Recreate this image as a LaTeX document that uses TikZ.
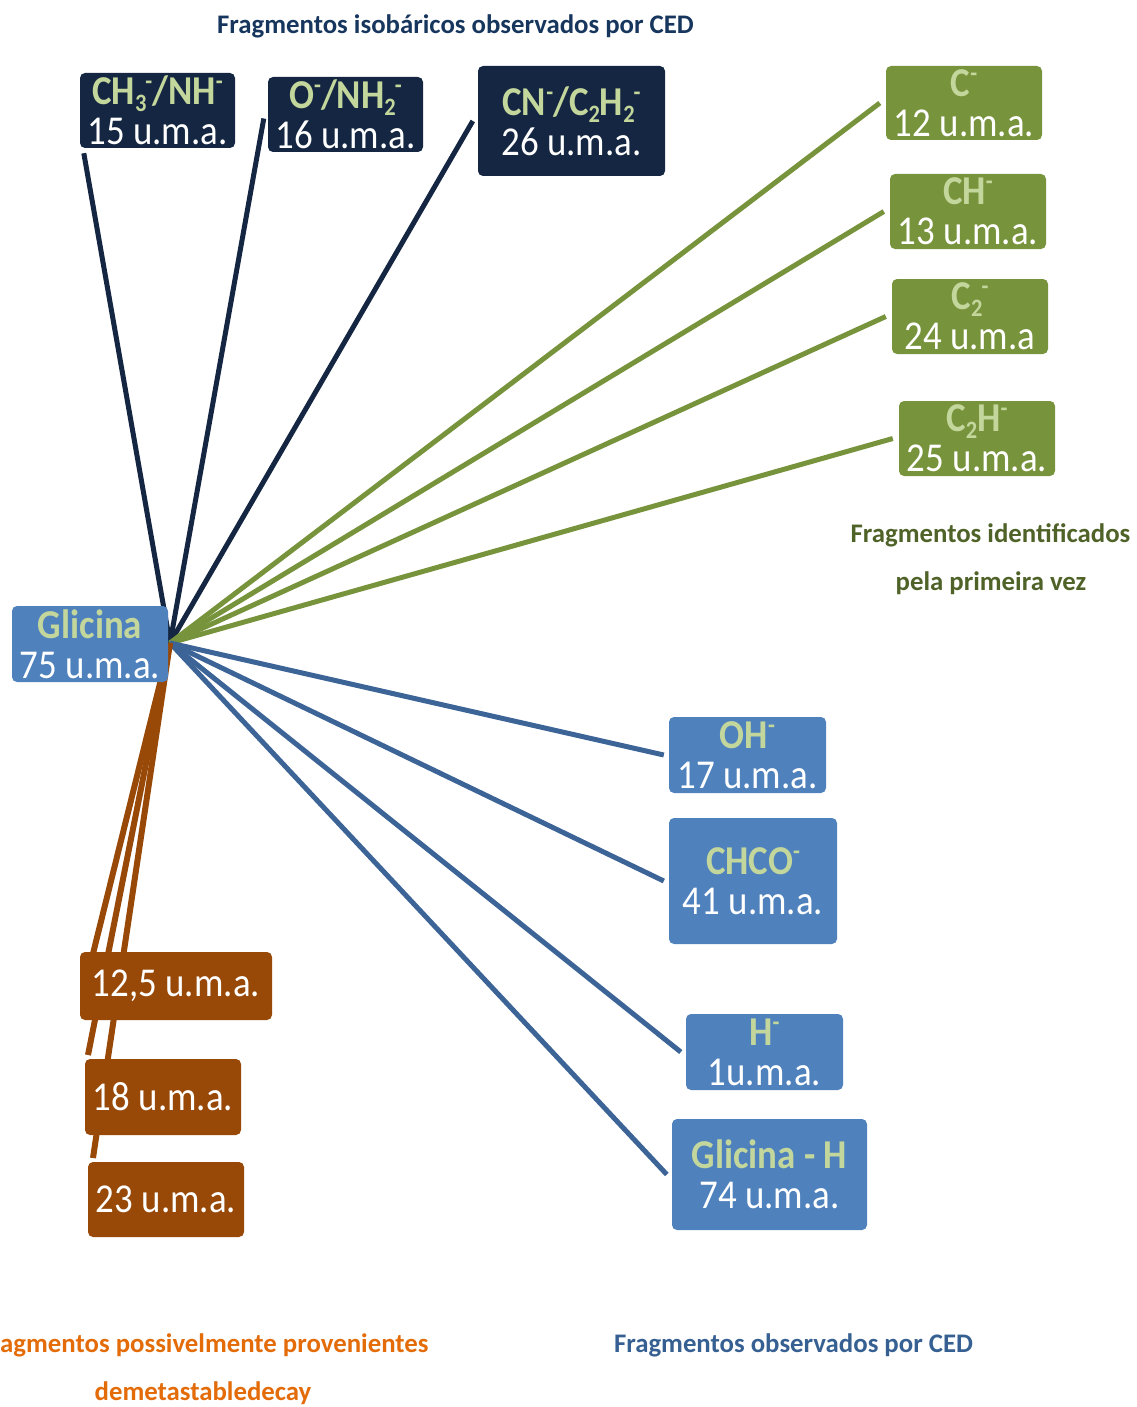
\documentclass[tikz,border=0pt]{standalone}
\usepackage{fontspec}
\setmainfont{Carlito}
\newfontfamily\boxfont[FakeStretch=0.9]{Carlito}
\usetikzlibrary{backgrounds}

\definecolor{navy}{HTML}{142641}
\definecolor{olive}{HTML}{77933C}
\definecolor{paleolive}{HTML}{C3D69B}
\definecolor{steel}{HTML}{4F81BD}
\definecolor{steelline}{HTML}{3C6497}
\definecolor{rust}{HTML}{984807}
\definecolor{navytitle}{HTML}{17365D}
\definecolor{olivetitle}{HTML}{4F6228}
\definecolor{steeltitle}{HTML}{366092}
\definecolor{rusttitle}{HTML}{E36C09}

% charge and index marks sized for the 41pt box text
\newcommand{\sups}[1]{\raisebox{15pt}{\fontsize{25}{25}\selectfont #1}}
\newcommand{\subs}[1]{\raisebox{-7pt}{\fontsize{25}{25}\selectfont #1}}
% ion with index followed by charge
\newcommand{\ionss}[2]{\subs{#1}\kern-1pt\sups{#2}}
\newcommand{\hd}[1]{{\bfseries\color{paleolive}#1}}

\begin{document}
\begin{tikzpicture}[x=1pt,y=-1pt,
  fragbox/.style={rounded corners=5pt, inner sep=0pt, align=center, text=white,
    font=\boxfont\fontsize{41}{40}\selectfont},
  navybox/.style={fragbox, fill=navy},
  olivebox/.style={fragbox, fill=olive},
  steelbox/.style={fragbox, fill=steel},
  rustbox/.style={fragbox, fill=rust},
  link/.style={line width=5pt},
  title/.style={font=\bfseries\fontsize{26.8}{30}\selectfont, anchor=base}]

\useasboundingbox (0,0) rectangle (1136,1407);

% parent ion
\node[steelbox, minimum width=156, minimum height=76] (gly) at (90,644) {\hd{Glicina}\\75 u.m.a.};
\coordinate (hub) at (170,643);

% isobaric fragments
\node[navybox, minimum width=155, minimum height=75] (ch3) at (157.5,110.5) {\hd{CH\ionss{3}{-}/NH\sups{-}}\\15 u.m.a.};
\node[navybox, minimum width=155, minimum height=75] (onh) at (345.5,114.5) {\hd{O\sups{-}/NH\ionss{2}{-}}\\16 u.m.a.};
\node[navybox, minimum width=187, minimum height=110] (cn) at (571.5,121) {\hd{CN\sups{-}/C\subs{2}H\ionss{2}{-}}\\26 u.m.a.};

% fragments identified for the first time
\node[olivebox, minimum width=156, minimum height=74] (c) at (964,103) {\hd{C\sups{-}}\\12 u.m.a.};
\node[olivebox, minimum width=156, minimum height=75] (ch) at (968,211.5) {\hd{CH\sups{-}}\\13 u.m.a.};
\node[olivebox, minimum width=156, minimum height=75] (c2) at (970,316.5) {\hd{C\ionss{2}{-}}\\24 u.m.a};
\node[olivebox, minimum width=156, minimum height=75] (c2h) at (977,438.5) {\hd{C\subs{2}H\sups{-}}\\25 u.m.a.};

% CED fragments
\node[steelbox, minimum width=157, minimum height=76] (oh) at (747.5,755) {\hd{OH\sups{-}}\\17 u.m.a.};
\node[steelbox, minimum width=168, minimum height=126] (chco) at (753,881) {\hd{CHCO\sups{-}}\\41 u.m.a.};
\node[steelbox, minimum width=157, minimum height=76] (h) at (764.5,1052) {\hd{H\sups{-}}\\1u.m.a.};
\node[steelbox, minimum width=195, minimum height=111] (glyh) at (769.5,1174.5) {\hd{Glicina - H}\\74 u.m.a.};

% metastable decay fragments
\node[rustbox, minimum width=192, minimum height=68] (r12) at (176,986) {12,5 u.m.a.};
\node[rustbox, minimum width=156, minimum height=76] (r18) at (163,1097) {18 u.m.a.};
\node[rustbox, minimum width=156, minimum height=75] (r23) at (166,1199.5) {23 u.m.a.};
\coordinate (m1) at (84,990);
\coordinate (m2) at (88,1055);
\coordinate (m3) at (93,1158);

\begin{scope}[on background layer]
  \draw[link, navy] (hub) -- ([shift={(4pt,-5pt)}]ch3.south west);
  \draw[link, navy] (hub) -- ([shift={(-4pt,-4pt)}]onh.west);
  \draw[link, navy] (hub) -- ([xshift=-5pt]cn.west);
  \draw[link, olive] (hub) -- ([xshift=-6pt]c.west);
  \draw[link, olive] (hub) -- ([xshift=-6pt]ch.west);
  \draw[link, olive] (hub) -- ([xshift=-6pt]c2.west);
  \draw[link, olive] (hub) -- ([xshift=-6pt]c2h.west);
  \draw[link, steelline] (hub) -- ([xshift=-5pt]oh.west);
  \draw[link, steelline] (hub) -- ([xshift=-5pt]chco.west);
  \draw[link, steelline] (hub) -- ([xshift=-5pt]h.west);
  \draw[link, steelline] (hub) -- ([xshift=-5pt]glyh.west);
  \draw[link, rust, line width=6pt] (hub) -- (m1);
  \draw[link, rust, line width=6pt] (hub) -- (m2);
  \draw[link, rust, line width=6pt] (hub) -- (m3);
\end{scope}

% group captions
\node[title, text=navytitle] (tisob) at (455.5,34) {Fragmentos isobáricos observados por CED};
\node[title, text=olivetitle] (tnew1) at (990.5,542) {Fragmentos identificados};
\node[title, text=olivetitle] (tnew2) at (991,590) {pela primeira vez};
\node[title, text=steeltitle] (tced) at (793.5,1352) {Fragmentos observados por CED};
\node[title, text=rusttitle, anchor=base west, inner sep=0pt] (tmeta1) at (0,1352) {agmentos possivelmente provenientes};
\node[title, text=rusttitle] (tmeta2) at (203,1400) {demetastabledecay};
\end{tikzpicture}
\end{document}
